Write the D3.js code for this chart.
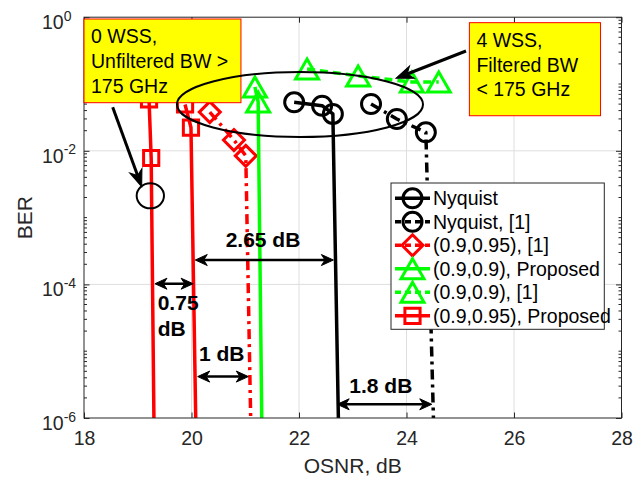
<!DOCTYPE html>
<html>
<head>
<meta charset="utf-8">
<script src="https://cdn.jsdelivr.net/npm/d3@7"></script>
<style>
  body { margin: 0; background: #fff; }
  svg { display: block; }
  text { font-family: "Liberation Sans", Arial, Helvetica, sans-serif; }
</style>
</head>
<body>
<svg id="chart" width="639" height="478"></svg>
<script>
// ---- Measured BER vs OSNR (dB) ----
// Nyquist shaping, proposed scheme
const nyqOsnr = [21.91, 22.43, 22.63, 22.80];
const nyqBer  = [0.0532, 0.0473, 0.0356, 1e-9];
// Nyquist shaping, scheme of [1]
const nyqRefOsnr = [23.34, 23.82, 24.36, 24.60];
const nyqRefBer  = [0.0502, 0.0299, 0.0189, 1e-9];
// (0.9,0.95) shaping, scheme of [1]
const r095RefOsnr = [20.34, 20.79, 21.01, 21.17];
const r095RefBer  = [0.038, 0.0145, 0.0084, 1e-9];
// (0.9,0.9) shaping, proposed scheme
const g09PropOsnr = [21.18, 21.24, 21.35];
const g09PropBer  = [0.0902, 0.0538, 1e-9];
// (0.9,0.9) shaping, scheme of [1] (error floor)
const g09RefOsnr = [22.15, 23.10, 24.10, 24.60];
const g09RefBer  = [0.168, 0.132, 0.107, 0.107];
// (0.9,0.95) shaping, proposed scheme: 4 WSS and 0 WSS cases
const r095Prop4Osnr = [19.88, 19.99, 20.14];
const r095Prop4Ber  = [0.0493, 0.0223, 1e-9];
const r095Prop0Osnr = [19.21, 19.25, 19.34];
const r095Prop0Ber  = [0.0586, 0.0078, 1e-9];

// Axis ticks
const xTicks = [18, 20, 22, 24, 26, 28];
const yTicks = [1, 1e-2, 1e-4, 1e-6];
const yTickExp = ["0", "-2", "-4", "-6"];
const xDomain = [18, 28];
const yDomain = [1e-6, 1];

// ---- Layout ----
const plotLeft = 84, plotRight = 621.5, plotTop = 17.2, plotBottom = 418;
const axisColor = "#262626";
const gridColor = "#dedede";
const fontSize = 19.5;
const lineW = 3.5, markW = 3;

const x = d3.scaleLinear().domain(xDomain).range([plotLeft, plotRight]);
const y = d3.scaleLog().domain(yDomain).range([plotBottom, plotTop]);

const svg = d3.select("#chart");

// Series definitions built from the arrays above
const series = [
  { name: "Nyquist", xs: nyqOsnr, ys: nyqBer, color: "#000000", dash: null, marker: "circle" },
  { name: "Nyquist, [1]", xs: nyqRefOsnr, ys: nyqRefBer, color: "#000000", dash: "10,5,3,5", marker: "circle" },
  { name: "(0.9,0.95), [1]", xs: r095RefOsnr, ys: r095RefBer, color: "#ff0000", dash: "10,5,3,5", marker: "diamond" },
  { name: "(0.9,0.9), Proposed", xs: g09PropOsnr, ys: g09PropBer, color: "#00ff00", dash: null, marker: "triangle" },
  { name: "(0.9,0.9), [1]", xs: g09RefOsnr, ys: g09RefBer, color: "#00ff00", dash: "8,5", marker: "triangle" },
  { name: "(0.9,0.95), Proposed", xs: r095Prop4Osnr, ys: r095Prop4Ber, color: "#ff0000", dash: null, marker: "square" },
  { name: null, xs: r095Prop0Osnr, ys: r095Prop0Ber, color: "#ff0000", dash: null, marker: "square" }
];

// Marker outlines (unfilled)
function markerPath(type) {
  switch (type) {
    case "circle": {
      const r = 9.5;
      return `M${r},0A${r},${r} 0 1,1 ${-r},0A${r},${r} 0 1,1 ${r},0Z`;
    }
    case "square": {
      const s = 7.6;
      return `M${-s},${-s}H${s}V${s}H${-s}Z`;
    }
    case "diamond": {
      const s = 10.5;
      return `M0,${-s}L${s},0L0,${s}L${-s},0Z`;
    }
    case "triangle": {
      const w = 11.5, h = 10;
      return `M0,${-h}L${w},${h}L${-w},${h}Z`;
    }
  }
}

// ---- Clip region for data ----
svg.append("defs").append("clipPath").attr("id", "plotClip")
  .append("rect")
  .attr("x", plotLeft).attr("y", plotTop)
  .attr("width", plotRight - plotLeft).attr("height", plotBottom - plotTop);

// ---- Grid ----
const grid = svg.append("g");
grid.selectAll("line.gx").data(xTicks.filter(t => t > xDomain[0] && t < xDomain[1]))
  .join("line")
  .attr("x1", d => x(d)).attr("x2", d => x(d))
  .attr("y1", plotTop).attr("y2", plotBottom)
  .attr("stroke", gridColor).attr("stroke-width", 1);
grid.selectAll("line.gy").data(yTicks.filter(t => t > yDomain[0] && t < yDomain[1]))
  .join("line")
  .attr("x1", plotLeft).attr("x2", plotRight)
  .attr("y1", d => y(d)).attr("y2", d => y(d))
  .attr("stroke", gridColor).attr("stroke-width", 1);

// ---- Axes ----
const tickLen = 5.5, minorLen = 3;
const xAxisB = d3.axisBottom(x).tickValues(xTicks).tickSizeInner(-tickLen).tickSizeOuter(0)
  .tickPadding(13).tickFormat(d3.format("d"));
const gxB = svg.append("g").attr("transform", `translate(0,${plotBottom})`).call(xAxisB);
const xAxisT = d3.axisTop(x).tickValues(xTicks).tickSizeInner(-tickLen).tickSizeOuter(0).tickFormat(() => "");
const gxT = svg.append("g").attr("transform", `translate(0,${plotTop})`).call(xAxisT);
const yAxisL = d3.axisLeft(y).tickValues(yTicks).tickSizeInner(-tickLen).tickSizeOuter(0).tickFormat(() => "");
const gyL = svg.append("g").attr("transform", `translate(${plotLeft},0)`).call(yAxisL);
const yAxisR = d3.axisRight(y).tickValues(yTicks).tickSizeInner(-tickLen).tickSizeOuter(0).tickFormat(() => "");
const gyR = svg.append("g").attr("transform", `translate(${plotRight},0)`).call(yAxisR);

[gxB, gxT, gyL, gyR].forEach(g => {
  g.select(".domain").remove();
  g.selectAll(".tick line").attr("stroke", axisColor).attr("stroke-width", 1);
});
gxB.selectAll(".tick text")
  .attr("font-size", fontSize).attr("fill", axisColor)
  .attr("font-family", "Liberation Sans, Arial, sans-serif");

// Power-of-ten labels on the BER axis
gyL.selectAll(".tick").each(function (d) {
  const t = d3.select(this).append("text")
    .attr("x", -42).attr("y", 11.3)
    .attr("text-anchor", "start")
    .attr("fill", axisColor)
    .attr("font-size", fontSize)
    .attr("font-family", "Liberation Sans, Arial, sans-serif");
  t.append("tspan").text("10");
  t.append("tspan").attr("dy", -8.3).attr("font-size", 14).text(yTickExp[yTicks.indexOf(d)]);
});

// Minor log ticks on left and right
const minorVals = [];
for (let k = -6; k < 0; k++) {
  for (let m = 1; m <= 9; m++) {
    const v = m * Math.pow(10, k);
    if (!yTicks.some(t => Math.abs(t - v) / t < 1e-9)) minorVals.push(v);
  }
}
const minor = svg.append("g").attr("stroke", axisColor).attr("stroke-width", 1);
minor.selectAll("line.ml").data(minorVals).join("line")
  .attr("x1", plotLeft).attr("x2", plotLeft + minorLen)
  .attr("y1", d => y(d)).attr("y2", d => y(d));
minor.selectAll("line.mr").data(minorVals).join("line")
  .attr("x1", plotRight).attr("x2", plotRight - minorLen)
  .attr("y1", d => y(d)).attr("y2", d => y(d));

// Axis labels
svg.append("text")
  .attr("x", (plotLeft + plotRight) / 2).attr("y", 473)
  .attr("text-anchor", "middle").attr("font-size", 21).attr("fill", axisColor)
  .text("OSNR, dB");
svg.append("text")
  .attr("transform", `translate(31.5,${(plotTop + plotBottom) / 2}) rotate(-90)`)
  .attr("text-anchor", "middle").attr("font-size", 21).attr("fill", axisColor)
  .text("BER");

// ---- Data curves ----
const dataLayer = svg.append("g").attr("clip-path", "url(#plotClip)");
const lineGen = d3.line().x(d => x(d[0])).y(d => y(d[1]));
series.forEach(s => {
  const pts = s.xs.map((v, i) => [v, s.ys[i]]);
  dataLayer.append("path")
    .datum(pts)
    .attr("d", lineGen)
    .attr("fill", "none")
    .attr("stroke", s.color)
    .attr("stroke-width", lineW)
    .attr("stroke-dasharray", s.dash)
    .attr("stroke-linejoin", "round");
  dataLayer.selectAll(null).data(pts).join("path")
    .attr("transform", d => `translate(${x(d[0])},${y(d[1])})`)
    .attr("d", markerPath(s.marker))
    .attr("fill", "none")
    .attr("stroke", s.color)
    .attr("stroke-width", markW);
});

// Box outline
svg.append("rect")
  .attr("x", plotLeft).attr("y", plotTop)
  .attr("width", plotRight - plotLeft).attr("height", plotBottom - plotTop)
  .attr("fill", "none").attr("stroke", axisColor).attr("stroke-width", 1);

// ---- Annotations ----
const noteBoxes = [
  { lines: ["0 WSS,", "Unfiltered BW >", "175 GHz"], x0: 18.0, x1: 20.92, yTop: Math.pow(10, -0.027), yBot: Math.pow(10, -1.28) },
  { lines: ["4 WSS,", "Filtered BW", "< 175 GHz"], x0: 25.17, x1: 27.61, yTop: Math.pow(10, -0.082), yBot: Math.pow(10, -1.475) }
];
const highlightEllipses = [
  { x0: 19.73, x1: 24.307, yTop: Math.pow(10, -0.82), yBot: Math.pow(10, -1.793) },
  { x0: 18.98, x1: 19.488, yTop: Math.pow(10, -2.487), yBot: Math.pow(10, -2.861) }
];
const pointerArrows = [
  { from: [18.534, Math.pow(10, -1.349)], to: [19.073, Math.pow(10, -2.537)] },
  { from: [25.107, Math.pow(10, -0.506)], to: [23.805, Math.pow(10, -0.915)] }
];
const gapArrows = [
  { x0: 20.07, x1: 22.64, ber: Math.pow(10, -3.635) },
  { x0: 19.32, x1: 20.03, ber: Math.pow(10, -3.99) },
  { x0: 20.115, x1: 21.057, ber: Math.pow(10, -5.38) },
  { x0: 22.71, x1: 24.47, ber: Math.pow(10, -5.795) }
];
const gapLabels = [
  { lines: ["2.65 dB"], x: 21.33, ber: Math.pow(10, -3.44), anchor: "middle" },
  { lines: ["0.75", "dB"], x: 19.371, ber: Math.pow(10, -4.383), anchor: "start" },
  { lines: ["1 dB"], x: 20.14, ber: Math.pow(10, -5.142), anchor: "start" },
  { lines: ["1.8 dB"], x: 22.936, ber: Math.pow(10, -5.621), anchor: "start" }
];

// Yellow text boxes
const boxLayer = svg.append("g");
noteBoxes.forEach(b => {
  const bx = x(b.x0), by = y(b.yTop);
  boxLayer.append("rect")
    .attr("x", bx).attr("y", by)
    .attr("width", x(b.x1) - bx).attr("height", y(b.yBot) - by)
    .attr("fill", "#ffff00").attr("stroke", "#ff0000").attr("stroke-width", 1);
  const t = boxLayer.append("text").attr("font-size", fontSize).attr("fill", "#000");
  b.lines.forEach((ln, i) => {
    t.append("tspan").attr("x", bx + 7).attr("y", by + 24.3 + i * 24.6).text(ln);
  });
});

// Highlight ellipses
svg.append("g").selectAll("ellipse").data(highlightEllipses).join("ellipse")
  .attr("cx", d => (x(d.x0) + x(d.x1)) / 2)
  .attr("cy", d => (y(d.yTop) + y(d.yBot)) / 2)
  .attr("rx", d => (x(d.x1) - x(d.x0)) / 2)
  .attr("ry", d => (y(d.yBot) - y(d.yTop)) / 2)
  .attr("fill", "none").attr("stroke", "#000").attr("stroke-width", 2);

// Arrowhead drawn at a tip point, pointing along angle ang
function arrowHead(g, tx, ty, ang, L, W) {
  const notch = L * 0.7;
  const p = `M0,0L${-L},${-W / 2}L${-notch},0L${-L},${W / 2}Z`;
  g.append("path")
    .attr("d", p)
    .attr("transform", `translate(${tx},${ty}) rotate(${ang * 180 / Math.PI})`)
    .attr("fill", "#000").attr("stroke", "#000").attr("stroke-width", 1);
}

const arrowLayer = svg.append("g");
pointerArrows.forEach(a => {
  const x1 = x(a.from[0]), y1 = y(a.from[1]), x2 = x(a.to[0]), y2 = y(a.to[1]);
  const ang = Math.atan2(y2 - y1, x2 - x1);
  const L = 17, W = 13;
  arrowLayer.append("line")
    .attr("x1", x1).attr("y1", y1)
    .attr("x2", x2 - Math.cos(ang) * L * 0.7).attr("y2", y2 - Math.sin(ang) * L * 0.7)
    .attr("stroke", "#000").attr("stroke-width", 3);
  arrowHead(arrowLayer, x2, y2, ang, L, W);
});

gapArrows.forEach(a => {
  const xa = x(a.x0), xb = x(a.x1), yy = y(a.ber);
  const L = 12, W = 11;
  arrowLayer.append("line")
    .attr("x1", xa + L * 0.7).attr("x2", xb - L * 0.7)
    .attr("y1", yy).attr("y2", yy)
    .attr("stroke", "#000").attr("stroke-width", 2.5);
  arrowHead(arrowLayer, xb, yy, 0, L, W);
  arrowHead(arrowLayer, xa, yy, Math.PI, L, W);
});

gapLabels.forEach(l => {
  const t = arrowLayer.append("text")
    .attr("font-size", 21).attr("font-weight", "bold").attr("fill", "#000")
    .attr("text-anchor", l.anchor);
  l.lines.forEach((ln, i) => {
    t.append("tspan").attr("x", x(l.x)).attr("y", y(l.ber) + i * 25.7).text(ln);
  });
});

// ---- Legend ----
const legendItems = series.filter(s => s.name);
const lg = svg.append("g");
const lgX = 391, lgY = 183, lgW = 213.3, lgH = 146.3, rowH = 23.5, row0 = 198.3;
lg.append("rect")
  .attr("x", lgX).attr("y", lgY).attr("width", lgW).attr("height", lgH)
  .attr("fill", "#fff").attr("stroke", axisColor).attr("stroke-width", 1);
legendItems.forEach((s, i) => {
  const cy = row0 + i * rowH;
  lg.append("line")
    .attr("x1", lgX + 4).attr("x2", lgX + 39)
    .attr("y1", cy).attr("y2", cy)
    .attr("stroke", s.color).attr("stroke-width", lineW)
    .attr("stroke-dasharray", s.dash ? "6,4" : null);
  lg.append("path")
    .attr("transform", `translate(${lgX + 21.5},${cy})`)
    .attr("d", markerPath(s.marker))
    .attr("fill", "none").attr("stroke", s.color).attr("stroke-width", markW);
  lg.append("text")
    .attr("x", lgX + 42).attr("y", cy + 7)
    .attr("font-size", fontSize).attr("fill", "#000")
    .text(s.name);
});
</script>
</body>
</html>
